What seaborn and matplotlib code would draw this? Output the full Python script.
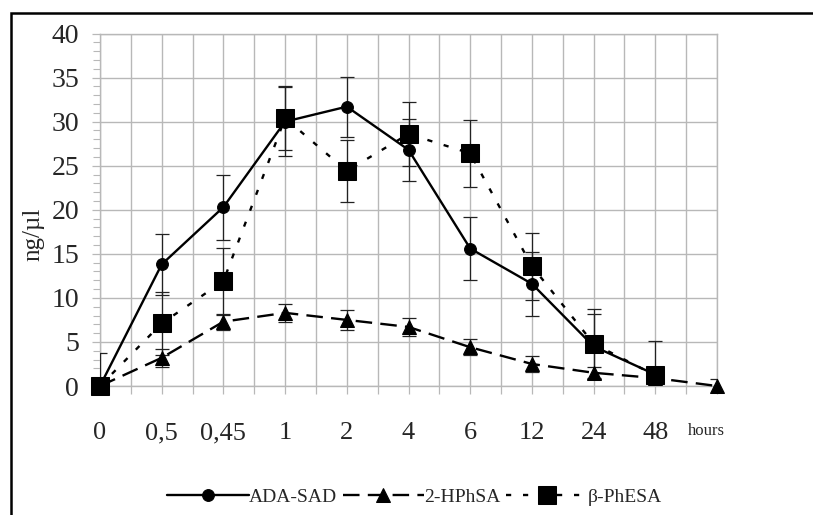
import numpy as np
import pandas as pd
import matplotlib
matplotlib.use("Agg")
import matplotlib.pyplot as plt
from matplotlib.patches import Rectangle
from matplotlib.ticker import MultipleLocator
import seaborn as sns

# ---- data ----
categories = ["0", "0,5", "0,45", "1", "2", "4", "6", "12", "24", "48", ""]
ada_sad = [0, 13.8, 20.3, 30.0, 31.7, 26.8, 15.6, 11.6, 4.5, 1.3, np.nan]
ada_sad_err = [3.7, 3.5, 3.7, 3.9, 3.4, 3.5, 3.6, 3.6, 3.7, 0.0, np.nan]
hphsa = [0, 3.2, 7.3, 8.3, 7.5, 6.7, 4.4, 2.5, 1.5, 0.9, 0]
hphsa_err = [0.0, 1.0, 0.9, 1.0, 1.1, 1.0, 0.9, 0.9, 0.7, 0.0, 0.8]
phesa = [0, 7.1, 11.9, 30.4, 24.4, 28.6, 26.4, 13.6, 4.8, 1.2, np.nan]
phesa_err = [0.0, 3.6, 3.8, 3.6, 3.5, 3.6, 3.8, 3.8, 3.9, 3.9, np.nan]
series_names = ["ADA-SAD", "2-HPhSA", "β-PhESA"]

positions = np.arange(len(categories))

sns.set_theme(style="white")
plt.rcParams["font.family"] = ["Liberation Serif", "DejaVu Serif"]

fig = plt.figure(figsize=(8.13, 5.15), dpi=100)
ax = fig.add_axes([100 / 813, 1 - 386 / 515, 617 / 813, 352.5 / 515])

grid_c = "#b8b8b8"
styles = {
    "ADA-SAD": dict(marker="o", ms=8.5, dashes=None),
    "2-HPhSA": dict(marker="^", ms=10, dashes=(7, 3.5)),
    "β-PhESA": dict(marker="s", ms=12.5, dashes=(2.2, 5)),
}
values = {"ADA-SAD": (ada_sad, ada_sad_err),
          "2-HPhSA": (hphsa, hphsa_err),
          "β-PhESA": (phesa, phesa_err)}

handles = []
for name in series_names:
    v, e = values[name]
    df = pd.DataFrame({"pos": positions, "val": v}).dropna()
    st = styles[name]
    kw = dict(color="black", lw=1.7, marker=st["marker"], markersize=st["ms"],
              markeredgecolor="black", markerfacecolor="black")
    sns.lineplot(data=df, x="pos", y="val", ax=ax, legend=False, **kw)
    ln = ax.get_lines()[-1]
    if st["dashes"] is not None:
        ln.set_dashes(st["dashes"])
    ln.set_clip_on(False)
    ln.set_zorder(4)
    handles.append(ln)
    ax.errorbar(positions, v, yerr=e, fmt="none", ecolor="#222222",
                elinewidth=0.9, capsize=5, capthick=0.9, zorder=3)

if ax.get_legend() is not None:
    ax.get_legend().remove()

ax.set_xlim(0, 10)
ax.set_ylim(0, 40)
ax.set_xticks(positions[:10])
ax.set_xticklabels(categories[:10], fontsize=19)
ax.xaxis.set_minor_locator(MultipleLocator(0.5))
ax.yaxis.set_major_locator(MultipleLocator(5))
ax.yaxis.set_minor_locator(MultipleLocator(1))
ax.tick_params(axis="y", which="major", labelsize=20, length=6, width=0.9,
               color=grid_c, pad=9, left=True)
ax.tick_params(axis="y", which="minor", length=5, width=0.8, color=grid_c, left=True)
ax.tick_params(axis="x", which="both", length=6, width=0.9, color=grid_c,
               pad=20, bottom=True)
ax.grid(True, which="major", axis="both", color=grid_c, lw=1)
ax.grid(True, which="minor", axis="x", color=grid_c, lw=1)
ax.set_axisbelow(True)
for sp in ax.spines.values():
    sp.set_color(grid_c)
    sp.set_linewidth(1)

ax.set_xlabel("")
ax.set_ylabel("ng/µl", fontsize=18, labelpad=0)
ax.yaxis.set_label_coords(-0.09, 0.43)
ax.text(9.82, -0.128, "hours", transform=ax.get_xaxis_transform(),
        ha="center", va="center", fontsize=12)

fig.legend(handles=handles, labels=series_names, loc="center",
           bbox_to_anchor=(0.51, 0.035), ncol=3, frameon=False,
           handlelength=4.2, handletextpad=0.0, columnspacing=0.3,
           fontsize=14, numpoints=1)

fig.patches.append(Rectangle((11 / 813, -0.2), 1.2, 0.2 + 1 - 13 / 515,
                             transform=fig.transFigure, fill=False,
                             edgecolor="black", lw=1.8))

fig.savefig("out.png", dpi=100)
